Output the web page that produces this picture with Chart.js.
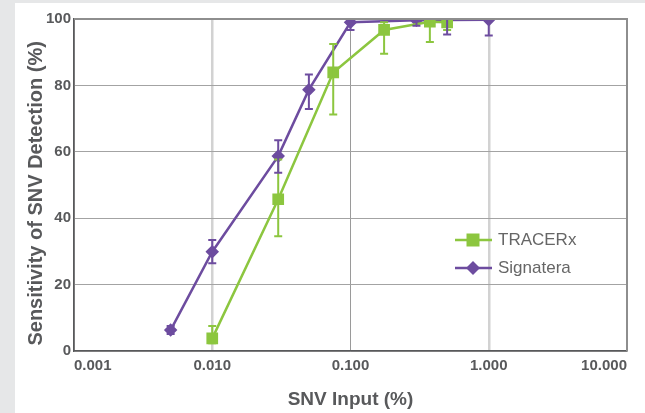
<!DOCTYPE html>
<html>
<head>
<meta charset="utf-8">
<script src="https://cdn.jsdelivr.net/npm/chart.js@4/dist/chart.umd.min.js"></script>
<style>
  html, body { margin: 0; padding: 0; background: #e6e7e8; }
  canvas { display: block; }
</style>
</head>
<body>
<canvas id="snvChart" width="645" height="413"></canvas>
<script>
// SNV input (%) on a log axis, sensitivity (%) with error bars
const tracerxX = [0.01, 0.03, 0.075, 0.175, 0.375, 0.5];
const tracerxY = [3.8, 45.7, 83.9, 96.7, 99.2, 99.0];
const tracerxLow = [2.3, 34.6, 71.2, 89.5, 93.1, 96.7];
const tracerxHigh = [7.5, 57.7, 92.5, 99.0, 102, 101];

const signateraX = [0.005, 0.01, 0.03, 0.05, 0.1, 0.3, 0.5, 1.0];
const signateraY = [6.3, 29.9, 58.7, 78.7, 99.0, 99.6, 99.7, 99.8];
const signateraLow = [5.1, 26.4, 53.7, 72.9, 96.7, 98.0, 95.3, 95.0];
const signateraHigh = [7.5, 33.4, 63.5, 83.3, 100.3, 101, 101, 100.3];

const xTicks = [0.001, 0.01, 0.1, 1, 10];
const xTickLabels = ['0.001', '0.010', '0.100', '1.000', '10.000'];
const yTicks = [0, 20, 40, 60, 80, 100];

const green = '#8cc63f';
const purple = '#6d4c9f';
const textGray = '#58595b';
const fontFamily = '"Liberation Sans", Arial, sans-serif';

function toPoints(xs, ys) {
  return xs.map((x, i) => ({ x: x, y: ys[i] }));
}

// gray page with white panel behind the chart
const panelBg = {
  id: 'panelBg',
  beforeDraw(chart) {
    const ctx = chart.ctx;
    ctx.save();
    ctx.fillStyle = '#e6e7e8';
    ctx.fillRect(0, 0, chart.width, chart.height);
    ctx.fillStyle = '#ffffff';
    ctx.fillRect(15, 3, chart.width - 15, chart.height - 3);
    ctx.restore();
  }
};

// top + right frame lines
const frame = {
  id: 'frame',
  afterDraw(chart) {
    const a = chart.chartArea;
    const ctx = chart.ctx;
    ctx.save();
    ctx.strokeStyle = '#8e8e8e';
    ctx.lineWidth = 2;
    ctx.beginPath();
    ctx.moveTo(a.left, a.top);
    ctx.lineTo(a.right, a.top);
    ctx.lineTo(a.right, a.bottom);
    ctx.stroke();
    ctx.restore();
  }
};

// vertical error bars, clipped to the plot area
const errorBars = {
  id: 'errorBars',
  afterDatasetsDraw(chart) {
    const ctx = chart.ctx;
    const a = chart.chartArea;
    const xs = chart.scales.x, ys = chart.scales.y;
    ctx.save();
    ctx.beginPath();
    ctx.rect(a.left, a.top, a.right - a.left, a.bottom - a.top);
    ctx.clip();
    chart.data.datasets.forEach(ds => {
      ds.data.forEach((p, i) => {
        const px = xs.getPixelForValue(p.x);
        const lo = ys.getPixelForValue(ds.errLow[i]);
        const hi = ys.getPixelForValue(ds.errHigh[i]);
        ctx.strokeStyle = ds.borderColor;
        ctx.lineWidth = 2;
        ctx.beginPath();
        ctx.moveTo(px, lo); ctx.lineTo(px, hi);
        ctx.moveTo(px - 4, lo); ctx.lineTo(px + 4, lo);
        ctx.moveTo(px - 4, hi); ctx.lineTo(px + 4, hi);
        ctx.stroke();
      });
    });
    ctx.restore();
  }
};

// legend inside the plot, line with marker
const innerLegend = {
  id: 'innerLegend',
  afterDraw(chart) {
    const ctx = chart.ctx;
    const a = chart.chartArea;
    const x0 = a.right - 172;
    let y = a.top + 221;
    ctx.save();
    chart.data.datasets.forEach(ds => {
      ctx.strokeStyle = ds.borderColor;
      ctx.fillStyle = ds.borderColor;
      ctx.lineWidth = 2.5;
      ctx.beginPath();
      ctx.moveTo(x0, y); ctx.lineTo(x0 + 37, y);
      ctx.stroke();
      const cx = x0 + 18;
      ctx.beginPath();
      if (ds.pointStyle === 'rect') {
        ctx.rect(cx - 6.5, y - 6.5, 13, 13);
      } else {
        ctx.moveTo(cx - 7, y); ctx.lineTo(cx, y - 7);
        ctx.lineTo(cx + 7, y); ctx.lineTo(cx, y + 7);
        ctx.closePath();
      }
      ctx.fill();
      ctx.fillStyle = '#666666';
      ctx.font = '17px ' + fontFamily;
      ctx.textBaseline = 'middle';
      ctx.textAlign = 'left';
      ctx.fillText(ds.label, x0 + 43, y);
      y += 28;
    });
    ctx.restore();
  }
};

new Chart(document.getElementById('snvChart'), {
  type: 'line',
  data: {
    datasets: [
      {
        label: 'TRACERx',
        data: toPoints(tracerxX, tracerxY),
        errLow: tracerxLow,
        errHigh: tracerxHigh,
        borderColor: green,
        backgroundColor: green,
        borderWidth: 2.5,
        pointStyle: 'rect',
        pointRadius: 6.5,
        pointHoverRadius: 6.5,
        tension: 0
      },
      {
        label: 'Signatera',
        data: toPoints(signateraX, signateraY),
        errLow: signateraLow,
        errHigh: signateraHigh,
        borderColor: purple,
        backgroundColor: purple,
        borderWidth: 2.5,
        pointStyle: 'rectRot',
        pointRadius: 5,
        pointHoverRadius: 5,
        tension: 0
      }
    ]
  },
  options: {
    responsive: false,
    animation: false,
    layout: { padding: { top: 19, right: 18, left: 0, bottom: 0 } },
    plugins: {
      legend: { display: false },
      tooltip: { enabled: false }
    },
    scales: {
      x: {
        type: 'logarithmic',
        min: 0.001,
        max: 10,
        afterBuildTicks: s => { s.ticks = xTicks.map(v => ({ value: v, major: true })); },
        afterFit: s => { s.height = 62; s.paddingLeft = 0; s.paddingRight = 0; },
        ticks: {
          autoSkip: false,
          maxRotation: 0,
          align: 'inner',
          padding: 6,
          color: textGray,
          font: { family: fontFamily, size: 15, weight: 'bold' },
          callback: function (v) {
            const i = xTicks.indexOf(v);
            return i >= 0 ? xTickLabels[i] : '';
          }
        },
        grid: {
          drawTicks: false,
          color: c => (c.tick && (c.tick.value === 0.01 || c.tick.value === 1)) ? '#d2d2d2' : '#9a9a9a',
          lineWidth: c => (c.tick && (c.tick.value === 0.01 || c.tick.value === 1)) ? 2.5 : 1
        },
        border: { color: textGray, width: 1.5 },
        title: {
          display: true,
          text: 'SNV Input (%)',
          color: textGray,
          font: { family: fontFamily, size: 19, weight: 'bold' },
          padding: { top: 0, bottom: 2 }
        }
      },
      y: {
        min: 0,
        max: 100,
        afterBuildTicks: s => { s.ticks = yTicks.map(v => ({ value: v })); },
        afterFit: s => { s.width = 74; },
        ticks: {
          padding: 3,
          color: textGray,
          font: { family: fontFamily, size: 15, weight: 'bold' }
        },
        grid: { drawTicks: false, color: '#a3a3a3', lineWidth: 1 },
        border: { color: textGray, width: 1.5 },
        title: {
          display: true,
          text: 'Sensitivity of SNV Detection (%)   ',
          color: textGray,
          font: { family: fontFamily, size: 20, weight: 'bold' },
          padding: { top: 24, bottom: 0 }
        }
      }
    }
  },
  plugins: [panelBg, frame, errorBars, innerLegend]
});
</script>
</body>
</html>
